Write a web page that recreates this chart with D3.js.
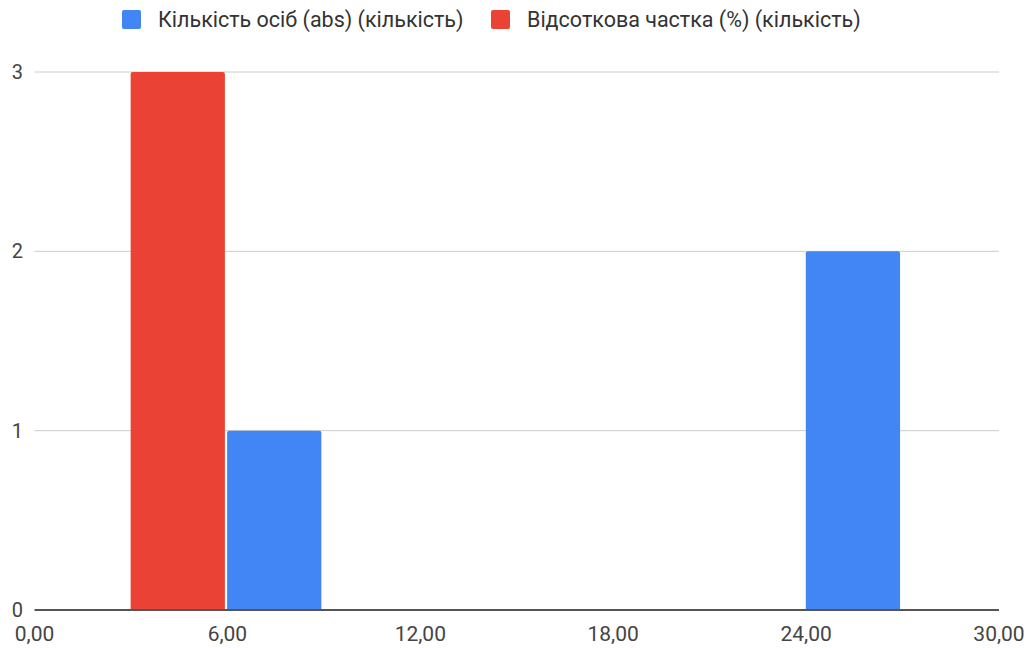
<!DOCTYPE html>
<html>
<head>
<meta charset="utf-8">
<script src="https://cdn.jsdelivr.net/npm/d3@7"></script>
<style>
  html, body { margin: 0; padding: 0; background: #fff; }
  svg { display: block; }
  text { font-family: Roboto, "Noto Sans", sans-serif; }
</style>
</head>
<body>
<svg id="chart" width="1032" height="648"></svg>
<script>
// ---- data ----
const seriesNames = ["Кількість осіб (abs) (кількість)", "Відсоткова частка (%) (кількість)"];
const seriesColors = ["#4285f4", "#ea4335"];
const binWidth = 3;
const absBinStarts = [6, 24];
const absCounts = [1, 2];
const pctBinStarts = [3];
const pctCounts = [3];
const xTicks = [0, 6, 12, 18, 24, 30];
const yTicks = [0, 1, 2, 3];

// ---- layout ----
const svg = d3.select("#chart");
const x = d3.scaleLinear().domain([0, 30]).range([34.5, 999]);
const y = d3.scaleLinear().domain([0, 3]).range([610, 72]);
const fmt = v => d3.format(".2f")(v).replace(".", ",");

// gridlines
svg.append("g").selectAll("line").data(yTicks.filter(d => d !== 0)).join("line")
  .attr("x1", x(0)).attr("x2", x(30))
  .attr("y1", d => y(d)).attr("y2", d => y(d))
  .attr("stroke", "#cccccc").attr("stroke-width", 1);

// y labels
svg.append("g").selectAll("text").data(yTicks).join("text")
  .attr("x", 23).attr("y", d => y(d) + 7)
  .attr("text-anchor", "end")
  .attr("font-size", 20).attr("fill", "#444")
  .text(d => d);

// bars
const series = [
  { starts: absBinStarts, counts: absCounts, color: seriesColors[0] },
  { starts: pctBinStarts, counts: pctCounts, color: seriesColors[1] }
];
series.forEach(s => {
  const data = s.starts.map((st, i) => ({ st, c: s.counts[i] }));
  svg.append("g").selectAll("path").data(data).join("path")
    .attr("fill", s.color)
    .attr("d", d => {
      const x0 = x(d.st) - 0.3, x1 = x(d.st + binWidth) - 2.5;
      const y0 = y(d.c), yb = y(0), r = 2;
      return `M${x0},${yb}V${y0 + r}Q${x0},${y0} ${x0 + r},${y0}H${x1 - r}Q${x1},${y0} ${x1},${y0 + r}V${yb}Z`;
    });
});

// baseline
svg.append("line")
  .attr("x1", x(0)).attr("x2", x(30))
  .attr("y1", y(0)).attr("y2", y(0))
  .attr("stroke", "#555").attr("stroke-width", 2);

// x labels
svg.append("g").selectAll("text").data(xTicks).join("text")
  .attr("x", d => x(d)).attr("y", 641)
  .attr("text-anchor", "middle")
  .attr("font-size", 21).attr("fill", "#444")
  .text(d => fmt(d));

// legend
const legendX = [122, 491];
const lg = svg.append("g").selectAll("g").data(seriesNames).join("g")
  .attr("transform", (d, i) => `translate(${legendX[i]},10)`);
lg.append("rect").attr("width", 19).attr("height", 19).attr("rx", 2)
  .attr("fill", (d, i) => seriesColors[i]);
lg.append("text").attr("x", 36).attr("y", 17)
  .attr("font-size", 21.5).attr("fill", "#333")
  .text(d => d);
</script>
</body>
</html>
